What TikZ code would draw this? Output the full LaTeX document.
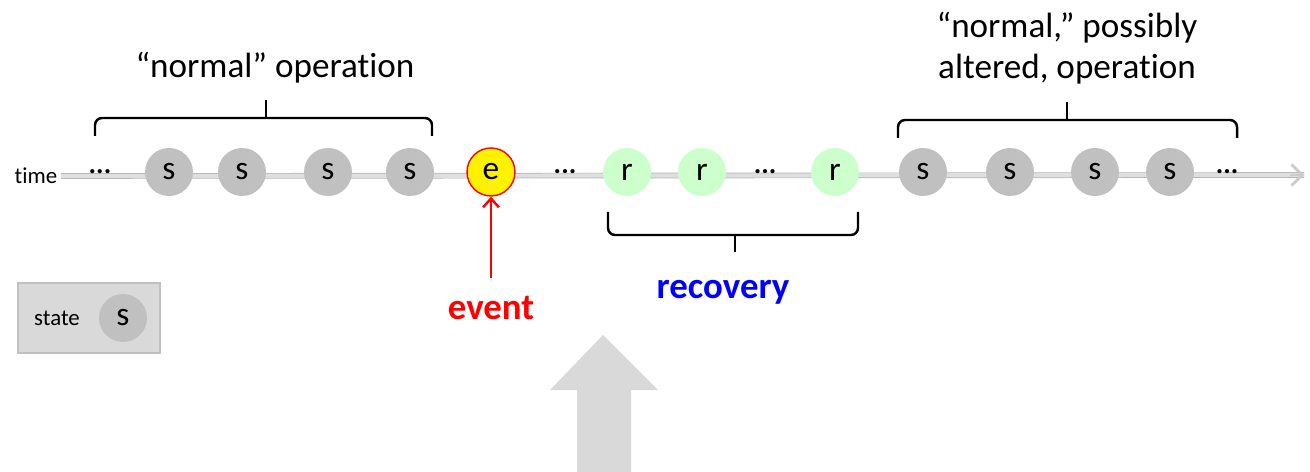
\documentclass[tikz,border=0pt]{standalone}
\usepackage{fontspec}
\setmainfont{Carlito}[Ligatures=NoCommon]
\usetikzlibrary{arrows.meta,positioning}

\definecolor{stategray}{HTML}{C0C0C0}
\definecolor{recgreen}{HTML}{CCFFCC}
\definecolor{boxgray}{HTML}{D9D9D9}

\begin{document}
\begin{tikzpicture}[x=0.02cm,y=-0.02cm,
  st/.style={circle,fill=stategray,inner sep=0pt,minimum size=0.96cm,font=\fontsize{19}{19}\selectfont},
  rec/.style={st,fill=recgreen},
  evt/.style={st,fill=yellow,draw=red,line width=0.8pt},
  dots/.style={font=\fontsize{16}{16}\selectfont\bfseries,inner sep=1pt},
  lbl/.style={font=\fontsize{20}{23}\selectfont,align=center},
  bold/.style={font=\fontsize{21}{24}\selectfont\bfseries},
  brace/.style={line width=1.4pt,rounded corners=4pt}]

  \useasboundingbox (0,0) rectangle (1310,472);

  % time line
  \node[font=\fontsize{13}{13}\selectfont,anchor=east,inner sep=2pt] (time) at (61,176) {time};
  \coordinate (tend) at (1304,175);
  \draw[gray!60,double=gray!25,double distance=2.4pt,line width=0.4pt] (time.east) -- (tend);
  \draw[gray!40,line width=1.6pt,-{Straight Barb[length=6pt,width=12pt]}] (1290,175) -- (tend);

  % states before the event
  \node[dots] (d1) at (100,172) {...};
  \node[st] (s1) at (169,172) {s};
  \node[st] (s2) at (242,172) {s};
  \node[st] (s3) at (328,172) {s};
  \node[st] (s4) at (410,172) {s};

  % event and recovery
  \node[evt] (e) at (491,172) {e};
  \node[dots] (d2) at (565,172) {...};
  \node[rec] (r1) at (627,172) {r};
  \node[rec] (r2) at (702,172) {r};
  \node[dots] (d3) at (765,172) {...};
  \node[rec] (r3) at (835,172) {r};

  % states after recovery
  \node[st] (s5) at (923,172) {s};
  \node[st] (s6) at (1010,172) {s};
  \node[st] (s7) at (1095,172) {s};
  \node[st] (s8) at (1170,172) {s};
  \node[dots] (d4) at (1227,172) {...};

  % braces
  \draw[brace] (95,136) -- (95,118) -- (432,118) -- (432,136);
  \draw[line width=1.4pt] (266,118) -- (266,100);
  \node[lbl] (normal) at (275,68) {“normal” operation};

  \draw[brace] (898,138) -- (898,120) -- (1237,120) -- (1237,138);
  \draw[line width=1.4pt] (1067,120) -- (1067,102);
  \node[lbl] (altered) at (1067,48) {“normal,” possibly\\altered, operation};

  \draw[brace] (608,212) -- (608,235) -- (858,235) -- (858,212);
  \draw[line width=1.4pt] (735,235) -- (735,252);
  \node[bold,text=blue] (recovery) at (723,292) {recovery};

  % event label
  \node[bold,text=red] (event) at (491,308) {event};
  \draw[red,line width=1.4pt,-{Straight Barb[length=5pt,width=9pt]}] (event.north) ++(0,-12) coordinate (etail) (etail) -- (e.south);

  % legend
  \draw[fill=boxgray,draw=stategray,line width=0.6pt] (18,283) rectangle (160,353);
  \node[font=\fontsize{13}{13}\selectfont] (state) at (57,318) {state};
  \node[st] (sl) at (123,318) {s};

  % big arrow
  \fill[boxgray] (577,472) -- (577,390) -- (550,390) -- (603,335) -- (658,390) -- (631,390) -- (631,472) -- cycle;
\end{tikzpicture}
\end{document}
